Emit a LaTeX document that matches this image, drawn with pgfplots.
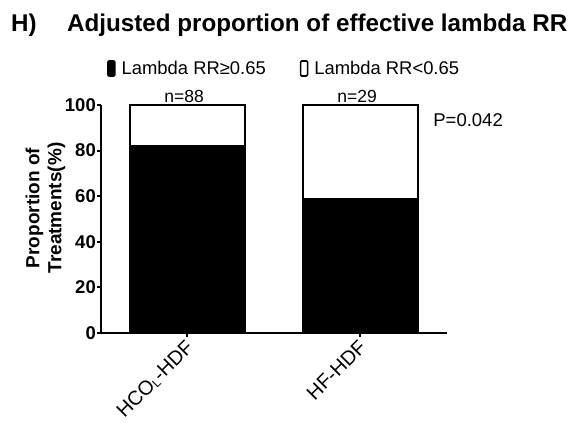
\documentclass[border=0pt]{standalone}
\usepackage{pgfplots}
\pgfplotsset{compat=1.18}
\usepackage{fontspec}
\setmainfont{Liberation Sans}
\newcommand\fs[1]{\fontsize{#1}{#1}\selectfont}

\begin{document}
\begin{tikzpicture}[x=1pt,y=1pt]
\useasboundingbox (0pt,0pt) rectangle (571pt,423pt);

% panel letter and title
\node[anchor=base west, inner sep=0, font=\bfseries\fs{24.2}] at (11pt,391pt) {H)};
\node[anchor=base west, inner sep=0, font=\bfseries\fs{24.2}] at (67pt,391pt) {Adjusted proportion of effective lambda RR};

\begin{axis}[
  at={(101pt,90pt)}, anchor=south west,
  scale only axis, width=346pt, height=228pt,
  clip=false,
  xmin=-0.5, xmax=1.5, ymin=0, ymax=100,
  axis x line*=bottom, axis y line*=left,
  axis line style={line width=2.4pt, black},
  ybar stacked, bar width=115pt,
  xtick={0,1},
  xticklabels={{HCO\raisebox{-1.5pt}{\fs{12}L}-HDF},{HF-HDF}},
  ytick={0,20,...,100},
  tick align=outside, major tick length=4pt,
  tick style={black, line width=2pt},
  /pgf/number format/assume math mode=true,
  yticklabel style={font=\bfseries\fs{18.5}, inner sep=1pt},
  xticklabel style={font=\fs{20}, rotate=45, anchor=north east, inner sep=0pt, xshift=-3pt, yshift=1pt},
  ylabel={\begin{tabular}{@{}c@{}}Proportion of\\[2.5pt]Treatments(\%)\end{tabular}},
  ylabel style={font=\bfseries\fs{19},
    at={(axis description cs:-0.158,0.548)}, anchor=center, inner sep=0pt},
  legend columns=2,
  legend style={at={(axis description cs:0.017,1.158)}, anchor=west, draw=none, fill=none,
    font=\fs{18.4}, inner sep=0pt,
    /tikz/every odd column/.append style={column sep=4pt},
    /tikz/every even column/.append style={column sep=32pt}},
  legend cell align=left,
  legend image code/.code={\draw[#1, line width=1.6pt, rounded corners=1.2pt] (0pt,-7pt) rectangle (7pt,8pt);},
]
% effective treatments (lower segment)
\addplot[fill=black, draw=black, line width=2pt] coordinates {(0,81.8) (1,58.6)};
% remaining treatments (upper segment)
\addplot[fill=white, draw=black, line width=2pt] coordinates {(0,18.2) (1,41.4)};
\legend{Lambda RR≥0.65, Lambda RR<0.65}

\node[anchor=base, font=\fs{17.5}, inner sep=0] at (axis cs:-0.02,100) [yshift=2.5pt] {n=88};
\node[anchor=base, font=\fs{17.5}, inner sep=0] at (axis cs:0.98,100) [yshift=2.5pt] {n=29};
\node[anchor=base west, font=\fs{18.5}, inner sep=0] at (rel axis cs:0.96,0.905) {P=0.042};
\end{axis}
\end{tikzpicture}
\end{document}
